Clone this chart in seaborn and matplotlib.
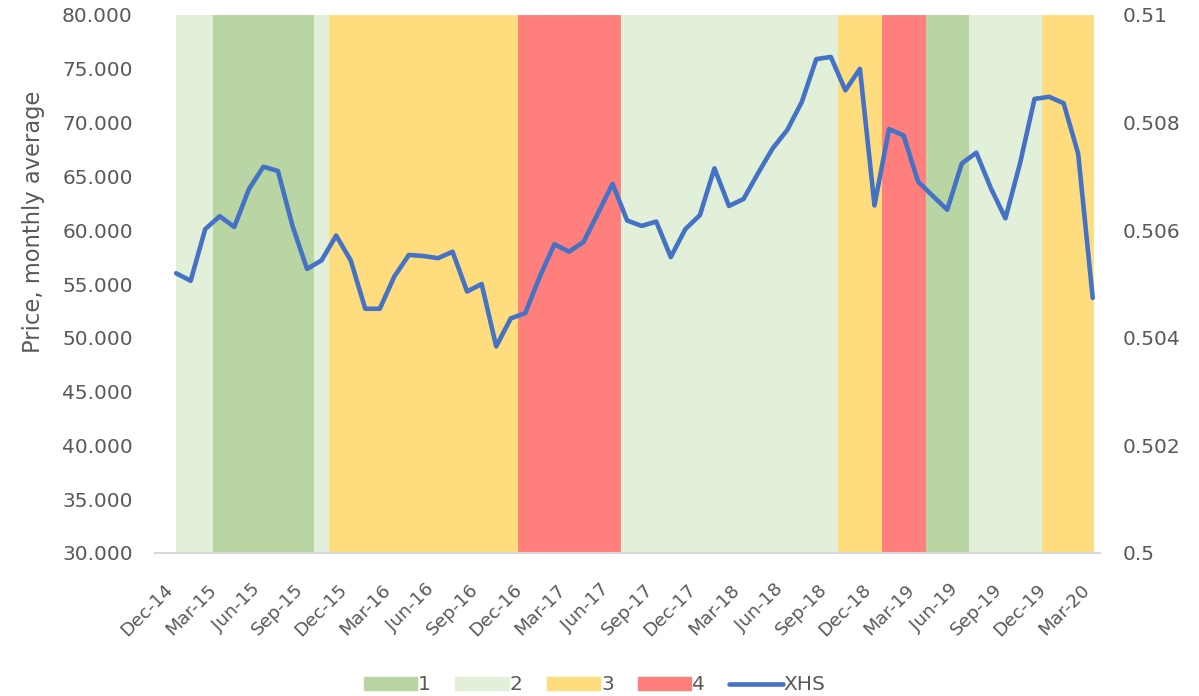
import numpy as np
import pandas as pd
import matplotlib
matplotlib.use("Agg")
import matplotlib.pyplot as plt
import seaborn as sns
from matplotlib.patches import Patch
from matplotlib.lines import Line2D

# ---- data ----
months = pd.date_range("2014-12-01", periods=64, freq="MS")
month_labels = [d.strftime("%b-%y") for d in months]

xhs_price = [
    56.0, 55.3, 60.1, 61.3, 60.3, 63.8, 65.9, 65.5, 60.4, 56.4,
    57.2, 59.5, 57.2, 52.7, 52.7, 55.7, 57.7, 57.6, 57.4, 58.0,
    54.3, 55.0, 49.2, 51.8, 52.3, 55.7, 58.7, 58.0, 58.9, 61.6,
    64.3, 60.9, 60.4, 60.8, 57.5, 60.1, 61.4, 65.75, 62.25, 62.9,
    65.3, 67.6, 69.3, 71.9, 75.9, 76.1, 73.0, 75.0, 62.3, 69.4,
    68.8, 64.5, 63.2, 61.9, 66.2, 67.2, 63.9, 61.1, 66.2, 72.2,
    72.4, 71.8, 67.1, 53.7,
]

# regime per month (1..4)
regime = (
    [2] * 3 + [1] * 7 + [2] * 1 + [3] * 13 + [4] * 7 + [2] * 15
    + [3] * 3 + [4] * 3 + [1] * 3 + [2] * 5 + [3] * 4
)
band_level = 0.51

regime_names = ["1", "2", "3", "4"]
regime_colors = ["#B8D5A3", "#E2EFD9", "#FFDD7E", "#FF7F7D"]
line_color = "#4472C4"
text_color = "#595959"

left_ticks = [30, 35, 40, 45, 50, 55, 60, 65, 70, 75, 80]
right_ticks = [0.5, 0.502, 0.504, 0.506, 0.508, 0.51]
right_tick_labels = ["0.5", "0.502", "0.504", "0.506", "0.508", "0.51"]

FS = 14.5

# ---- figure ----
sns.set_theme(style="white")
plt.rcParams["font.family"] = ["DejaVu Sans"]

fig = plt.figure(figsize=(11.99, 6.96), dpi=100)
ax = fig.add_axes([155 / 1199, 1 - 553 / 696, 945 / 1199, 538 / 696])
ax2 = ax.twinx()

n = len(months)
idx = np.arange(n)
df = pd.DataFrame({"i": idx, "price": xhs_price, "regime": regime})

# background bands on secondary axis (bars centred on months, clipped to data range)
for k, col in zip(range(1, 5), regime_colors):
    sel = df[df["regime"] == k]
    lefts = np.maximum(sel["i"].values - 0.5, 0)
    rights = np.minimum(sel["i"].values + 0.5, n - 1)
    ax2.bar(lefts, [band_level] * len(sel), width=rights - lefts, align="edge",
            color=col, edgecolor=col, linewidth=0.6, bottom=0)

ax2.set_ylim(0.5, 0.51)
ax2.set_yticks(right_ticks)
ax2.set_yticklabels(right_tick_labels)

# price line on primary axis, drawn above bands
sns.lineplot(data=df, x="i", y="price", ax=ax, color=line_color, linewidth=3.3,
             legend=False)
for ln in ax.get_lines():
    ln.set_solid_joinstyle("round")
    ln.set_solid_capstyle("round")
ax.set_zorder(ax2.get_zorder() + 1)
ax.patch.set_visible(False)

ax.set_xlim(-1.45, 63.5)
ax.set_ylim(30, 80)
ax.set_yticks(left_ticks)
ax.set_yticklabels([f"{v:.3f}" for v in left_ticks])
ax.set_xticks(idx[::3])
ax.set_xticklabels([month_labels[i] for i in idx[::3]], rotation=45,
                   ha="right", va="bottom", rotation_mode="anchor")
ax.set_xlabel("")
ax.set_ylabel("Price, monthly average", color=text_color, fontsize=16.3)
ax.yaxis.set_label_coords(-0.116, 0.615)

for a in (ax, ax2):
    for s in a.spines.values():
        s.set_visible(False)
    a.grid(False)
ax.spines["bottom"].set_visible(True)
ax.spines["bottom"].set_color("#D9D9D9")
ax.spines["bottom"].set_linewidth(1.5)

ax.tick_params(axis="y", length=0, pad=16, labelsize=FS, labelcolor=text_color)
ax.tick_params(axis="x", length=0, pad=29, labelsize=13.3, labelcolor=text_color)
ax2.tick_params(axis="y", length=0, pad=16, labelsize=FS, labelcolor=text_color)

handles = [Patch(facecolor=c, edgecolor=c) for c in regime_colors]
handles.append(Line2D([0], [0], color=line_color, linewidth=3.3,
                      solid_capstyle="round"))
fig.legend(handles, regime_names + ["XHS"], loc="center", ncol=5,
           bbox_to_anchor=(0.496, 0.016), frameon=False, fontsize=FS,
           labelcolor=text_color, handlelength=2.65, handleheight=0.6,
           handletextpad=0.05, columnspacing=1.2)

fig.savefig("out.png", dpi=100)
